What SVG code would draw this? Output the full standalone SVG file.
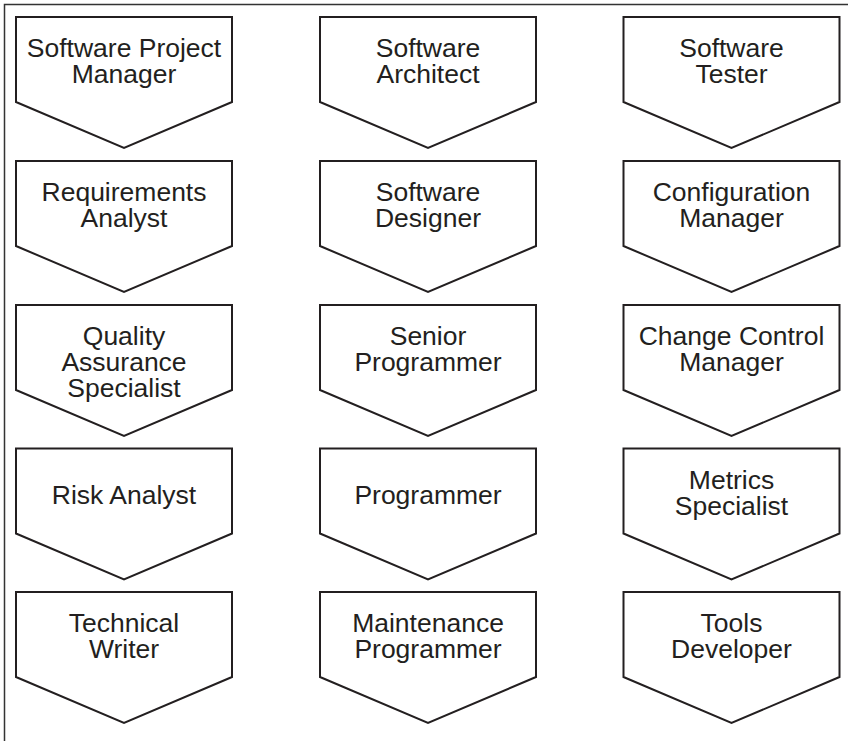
<svg xmlns="http://www.w3.org/2000/svg" width="848" height="741" viewBox="0 0 848 741">
<style>
.frame{fill:none;stroke:#333;stroke-width:1.5}
.sh{fill:#fff;stroke:#231f20;stroke-width:2;stroke-linejoin:miter}
.t{font-family:"Liberation Sans",Arial,Helvetica,sans-serif;font-size:26.5px;fill:#231f20;text-anchor:middle}
</style>
<defs>
<path id="pent" d="M-108,0 H108 V85 L0,131 L-108,85 Z"/>
</defs>
<rect width="848" height="741" fill="#fff"/>
<rect class="frame" x="4.5" y="4.5" width="860" height="760"/>
<g id="connectors"/>
<g id="n1" transform="translate(124,17)"><use href="#pent" class="sh"/><text class="t" y="40">Software Project</text><text class="t" y="66">Manager</text></g>
<g id="n2" transform="translate(428,17)"><use href="#pent" class="sh"/><text class="t" y="40">Software</text><text class="t" y="66">Architect</text></g>
<g id="n3" transform="translate(731.5,17)"><use href="#pent" class="sh"/><text class="t" y="40">Software</text><text class="t" y="66">Tester</text></g>
<g id="n4" transform="translate(124,161)"><use href="#pent" class="sh"/><text class="t" y="40">Requirements</text><text class="t" y="66">Analyst</text></g>
<g id="n5" transform="translate(428,161)"><use href="#pent" class="sh"/><text class="t" y="40">Software</text><text class="t" y="66">Designer</text></g>
<g id="n6" transform="translate(731.5,161)"><use href="#pent" class="sh"/><text class="t" y="40">Configuration</text><text class="t" y="66">Manager</text></g>
<g id="n7" transform="translate(124,305)"><use href="#pent" class="sh"/><text class="t" y="40">Quality</text><text class="t" y="66">Assurance</text><text class="t" y="92">Specialist</text></g>
<g id="n8" transform="translate(428,305)"><use href="#pent" class="sh"/><text class="t" y="40">Senior</text><text class="t" y="66">Programmer</text></g>
<g id="n9" transform="translate(731.5,305)"><use href="#pent" class="sh"/><text class="t" y="40">Change Control</text><text class="t" y="66">Manager</text></g>
<g id="n10" transform="translate(124,448.5)"><use href="#pent" class="sh"/><text class="t" y="55">Risk Analyst</text></g>
<g id="n11" transform="translate(428,448.5)"><use href="#pent" class="sh"/><text class="t" y="55">Programmer</text></g>
<g id="n12" transform="translate(731.5,448.5)"><use href="#pent" class="sh"/><text class="t" y="40">Metrics</text><text class="t" y="66">Specialist</text></g>
<g id="n13" transform="translate(124,592)"><use href="#pent" class="sh"/><text class="t" y="40">Technical</text><text class="t" y="66">Writer</text></g>
<g id="n14" transform="translate(428,592)"><use href="#pent" class="sh"/><text class="t" y="40">Maintenance</text><text class="t" y="66">Programmer</text></g>
<g id="n15" transform="translate(731.5,592)"><use href="#pent" class="sh"/><text class="t" y="40">Tools</text><text class="t" y="66">Developer</text></g>
</svg>
